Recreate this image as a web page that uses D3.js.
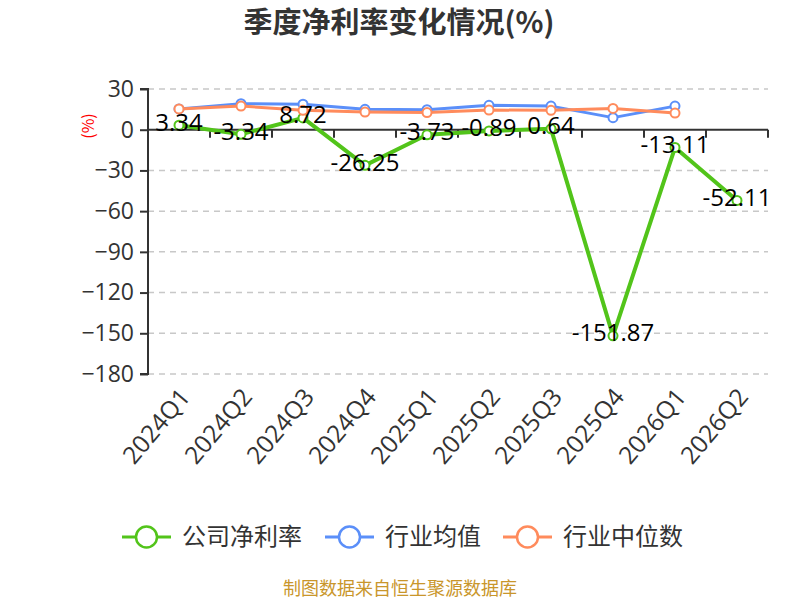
<!DOCTYPE html>
<html><head><meta charset="utf-8">
<script src="https://cdn.jsdelivr.net/npm/d3@7/dist/d3.min.js"></script>
<style>body{margin:0;background:#fff;}svg{display:block;font-family:"Noto Sans CJK SC","Open Sans",sans-serif;}</style>
</head><body>
<svg id="c" width="800" height="600"></svg>
<script>
const categories = ["2024Q1","2024Q2","2024Q3","2024Q4","2025Q1","2025Q2","2025Q3","2025Q4","2026Q1","2026Q2"];
const companyValues = [3.34,-3.34,8.72,-26.25,-3.73,-0.89,0.64,-151.87,-13.11,-52.11];
const industryAvg = [15.3,19.2,18.8,15.0,14.8,18.0,17.4,8.9,17.4,null];
const industryMedian = [15.3,17.4,14.3,13.0,12.6,14.5,14.3,15.7,12.3,null];
const yTicks = [30,0,-30,-60,-90,-120,-150,-180];
const seriesNames = ["公司净利率","行业均值","行业中位数"];
const colors = ["#52c41a","#5b8ff9","#ff8b5c"];

const svg = d3.select("#c");
const L=148,R=768,T=89,B=374;
const x = d3.scaleBand().domain(categories).range([L,R]);
const y = d3.scaleLinear().domain([-180,30]).range([B,T]);
const cx = d => x(d)+x.bandwidth()/2;

svg.append("text").attr("x",399).attr("y",33).attr("text-anchor","middle")
  .attr("font-size",29).attr("font-weight","bold").attr("fill","#333").text("季度净利率变化情况(%)");

// grid
const g = svg.append("g");
g.selectAll("line.grid").data(yTicks.filter(t=>t!==0)).join("line")
  .attr("x1",L).attr("x2",R).attr("y1",d=>y(d)).attr("y2",d=>y(d))
  .attr("stroke","#c8c8c8").attr("stroke-dasharray","6,5").attr("stroke-width",1.5);

// y axis
const ya = svg.append("g").attr("transform",`translate(${L},0)`)
  .call(d3.axisLeft(y).tickValues(yTicks).tickSize(8).tickPadding(6).tickFormat(d3.format("d")));
ya.select(".domain").attr("stroke","#333").attr("stroke-width",2).attr("d",`M-8,${T}H0V${B}H-8`);
ya.selectAll(".tick line").attr("stroke","#333").attr("stroke-width",2);
ya.selectAll(".tick text").attr("font-size",23).attr("fill","#333").attr("font-family","'Open Sans',sans-serif");

// x axis at 0
const xa = svg.append("g").attr("transform",`translate(0,${y(0)})`)
  .call(d3.axisBottom(x).tickSize(0).tickFormat(""));
xa.select(".domain").attr("stroke","#333").attr("stroke-width",2).attr("d",`M${L},0H${R}`);
const bounds = categories.map(c=>x(c)).concat([R]);
xa.selectAll("line.bt").data(bounds).join("line").attr("class","bt")
  .attr("x1",d=>d).attr("x2",d=>d).attr("y1",0).attr("y2",8).attr("stroke","#333").attr("stroke-width",2);

// x labels
svg.append("g").selectAll("text").data(categories).join("text")
  .attr("transform",d=>`translate(${cx(d)+6},${B+18}) rotate(-50)`)
  .attr("text-anchor","end").attr("dy","0.35em").attr("font-size",24.5).attr("fill","#333")
  .attr("font-family","'Open Sans',sans-serif").text(d=>d);

// y label
svg.append("text").attr("transform","translate(94,126) rotate(-90)").attr("text-anchor","middle")
  .attr("font-size",16).attr("fill","#ff0000").text("(%)");

const all = [companyValues,industryAvg,industryMedian];
const widths=[4,3,3];
all.forEach((vals,i)=>{
  const pts = categories.map((c,j)=>({c,v:vals[j]})).filter(p=>p.v!==null);
  const line = d3.line().x(p=>cx(p.c)).y(p=>y(p.v));
  svg.append("path").attr("d",line(pts)).attr("fill","none").attr("stroke",colors[i]).attr("stroke-width",widths[i]).attr("stroke-linejoin","round");
  svg.append("g").selectAll("circle").data(pts).join("circle")
    .attr("cx",p=>cx(p.c)).attr("cy",p=>y(p.v)).attr("r",4.5).attr("fill","#fff").attr("stroke",colors[i]).attr("stroke-width",2);
});

// company labels
svg.append("g").selectAll("text").data(categories.map((c,j)=>({c,v:companyValues[j]}))).join("text")
  .attr("x",p=>cx(p.c)).attr("y",p=>y(p.v)-3).attr("dy","0.35em").attr("text-anchor","middle")
  .attr("font-size",24).attr("fill","#000").attr("font-family","'Open Sans',sans-serif")
  .text(p=>p.v.toFixed(2));

// legend
const lx=[122,325,503];
seriesNames.forEach((n,i)=>{
  const lg = svg.append("g").attr("transform",`translate(${lx[i]},537)`);
  lg.append("line").attr("x1",0).attr("x2",49).attr("stroke",colors[i]).attr("stroke-width",3);
  lg.append("circle").attr("cx",24.5).attr("r",10.5).attr("fill","#fff").attr("stroke",colors[i]).attr("stroke-width",2.5);
  lg.append("text").attr("x",60).attr("dy","0.35em").attr("font-size",24).attr("fill","#333").text(n);
});

svg.append("text").attr("x",400).attr("y",595).attr("text-anchor","middle").attr("font-size",18)
  .attr("fill","#c9962b").text("制图数据来自恒生聚源数据库");
</script>
</body></html>
